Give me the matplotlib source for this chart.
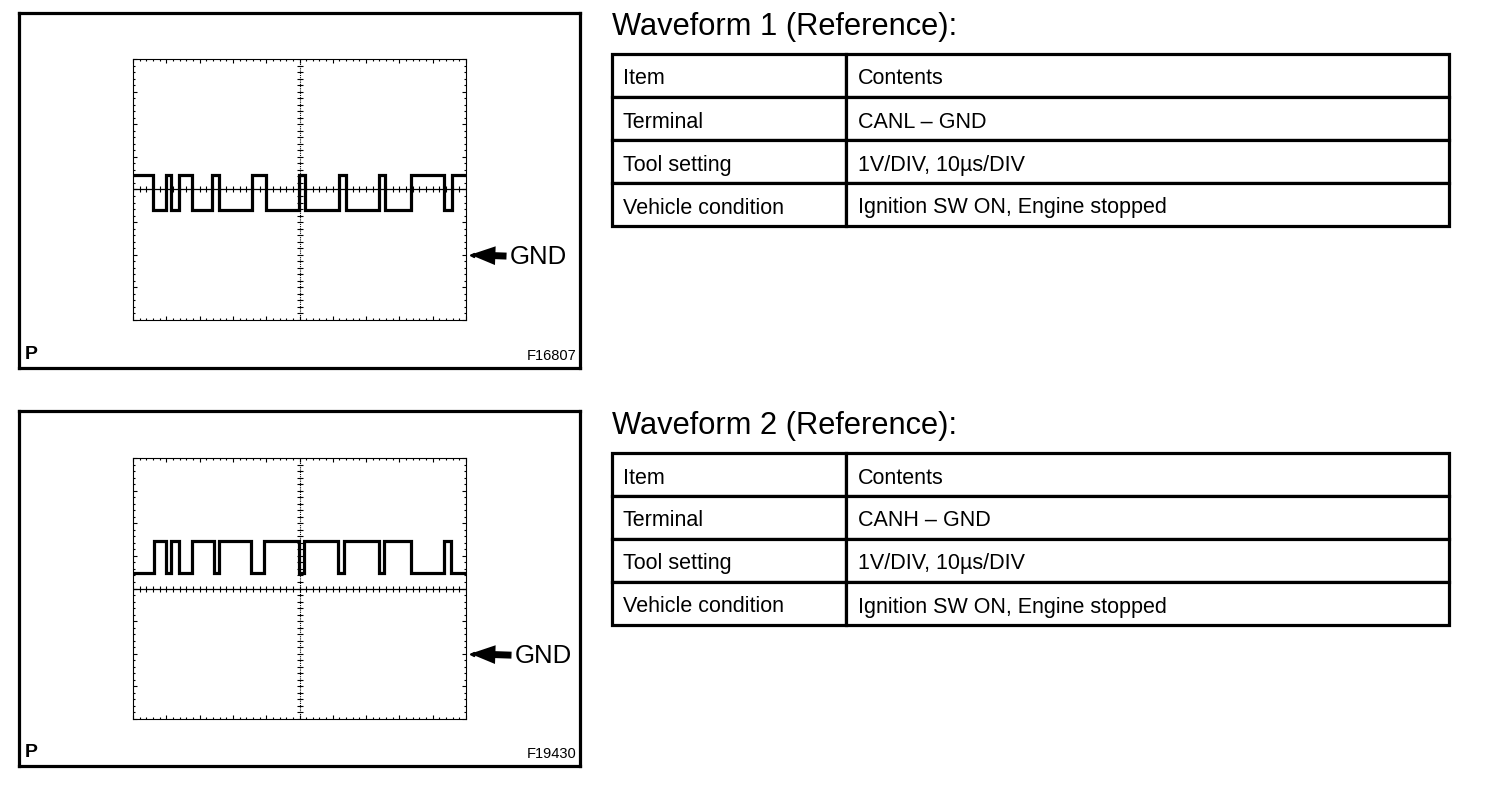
import numpy as np
import matplotlib
matplotlib.use('Agg')
import matplotlib.pyplot as plt
from matplotlib.transforms import Affine2D

plt.rcParams['font.family'] = ['Liberation Sans', 'DejaVu Sans']

# 파형 데이터 (시간: us, 전압: V, GND 기준)
canl_edges_us = [0, 6.0, 9.9, 11.5, 13.7, 17.8, 23.8, 25.8, 35.8, 40.0, 49.8,
                 51.8, 62.0, 64.0, 74.0, 75.7, 83.5, 93.5, 95.8, 100]
canl_states = [1, 0, 1, 0, 1, 0, 1, 0, 1, 0, 1, 0, 1, 0, 1, 0, 1, 0, 1]
canl_high_v = 2.43
canl_low_v = 1.36

canh_edges_us = [0, 6.3, 9.8, 11.5, 13.8, 17.8, 24.2, 25.8, 35.5, 39.3, 49.8,
                 51.3, 61.5, 63.3, 74.0, 75.5, 83.5, 93.5, 95.5, 100]
canh_states = [0, 1, 0, 1, 0, 1, 0, 1, 0, 1, 0, 1, 0, 1, 0, 1, 0, 1, 0]
canh_high_v = 3.46
canh_low_v = 2.47

gnd_div = 2  # GND 위치 (눈금 칸)
volt_per_div = 1
us_per_div = 10

table_items = ['Item', 'Terminal', 'Tool setting', 'Vehicle condition']
table1_contents = ['Contents', 'CANL \u2013 GND', '1V/DIV, 10\u00b5s/DIV',
                   'Ignition SW ON, Engine stopped']
table2_contents = ['Contents', 'CANH \u2013 GND', '1V/DIV, 10\u00b5s/DIV',
                   'Ignition SW ON, Engine stopped']

W, H = 1504, 798


def rect(x0, y0, x1, y1):
    # 픽셀 좌표 -> figure 비율
    return [x0 / W, (H - y1) / H, (x1 - x0) / W, (y1 - y0) / H]


def draw_frame(fig, y_off, code):
    ax = fig.add_axes(rect(19, 13 + y_off, 580, 368 + y_off))
    ax.set_xticks([])
    ax.set_yticks([])
    for s in ax.spines.values():
        s.set_linewidth(2.3)
    ax.text(0.011, 0.037, 'P', transform=ax.transAxes, fontsize=14,
            fontweight='bold', ha='left', va='center')
    ax.text(0.993, 0.033, code, transform=ax.transAxes, fontsize=10.5,
            ha='right', va='center')
    return ax


def draw_scope(fig, y_off, edges, states, high_v, low_v, text_x):
    ax = fig.add_axes(rect(133, 59 + y_off, 466, 320 + y_off))
    ax.set_xlim(0, 10 * us_per_div)
    ax.set_ylim(0, 8)
    ax.set_xticks(np.arange(0, 101, us_per_div))
    ax.set_xticks(np.arange(0, 101, us_per_div / 5), minor=True)
    ax.set_yticks(np.arange(0, 9, 1))
    ax.set_yticks(np.arange(0, 8.01, 0.2), minor=True)
    ax.tick_params(which='both', direction='in', top=True, right=True,
                   labelbottom=False, labelleft=False, width=0.8)
    ax.tick_params(which='major', length=3)
    ax.tick_params(which='minor', length=1.2)
    for s in ax.spines.values():
        s.set_linewidth(0.8)

    # 중앙 십자선
    ax.axvline(50, color='black', lw=0.8, ls=(0, (1, 1)))
    ax.axhline(4, color='black', lw=0.9)
    ax.plot(np.full(41, 50.0), np.arange(0, 8.01, 0.2), ls='none',
            marker='_', ms=4, mew=0.8, color='black')
    ax.plot(np.arange(0, 101, 2), np.full(51, 4.0), ls='none',
            marker='|', ms=4, mew=0.8, color='black')

    # 파형
    levels = [gnd_div + (high_v if s else low_v) / volt_per_div for s in states]
    ax.stairs(levels, edges, baseline=None, color='black', lw=2.3)

    # GND 표시
    ax.plot(101.8, gnd_div, marker='<', ms=3, color='black', clip_on=False)
    ax.annotate('GND', xy=(101.3, gnd_div), xytext=(text_x, gnd_div),
                fontsize=18.5, ha='left', va='center_baseline',
                annotation_clip=False,
                arrowprops=dict(arrowstyle='simple,head_length=1.8,head_width=1.35,tail_width=0.5',
                                mutation_scale=10, fc='black', ec='black', lw=0,
                                shrinkA=0, shrinkB=0))
    return ax


def draw_table(fig, y_off, title, contents):
    fig.text(612 / W, (H - 35 - y_off) / H, title, fontsize=22.2,
             ha='left', va='baseline')
    ax = fig.add_axes(rect(612, 54 + y_off, 1449, 226 + y_off))
    ax.axis('off')
    cells = [[a, b] for a, b in zip(table_items, contents)]
    tb = ax.table(cellText=cells, colWidths=[0.279, 0.721], cellLoc='left',
                  bbox=[0, 0, 1, 1])
    tb.auto_set_font_size(False)
    tb.set_fontsize(15.5)
    for (r, c), cell in tb.get_celld().items():
        cell.set_linewidth(2.3)
        cell.PAD = 0.047 if c == 0 else 0.02
        # 글자를 조금 아래로
        cell.get_text().set_transform(Affine2D().translate(0, -3.5))
    return ax


fig = plt.figure(figsize=(W / 100, H / 100), dpi=100)

draw_frame(fig, 0, 'F16807')
draw_scope(fig, 0, canl_edges_us, canl_states, canl_high_v, canl_low_v, 113.0)
draw_table(fig, 0, 'Waveform 1 (Reference):', table1_contents)

draw_frame(fig, 398, 'F19430')
draw_scope(fig, 399, canh_edges_us, canh_states, canh_high_v, canh_low_v, 114.5)
draw_table(fig, 399, 'Waveform 2 (Reference):', table2_contents)

fig.savefig('out.png', dpi=100)
